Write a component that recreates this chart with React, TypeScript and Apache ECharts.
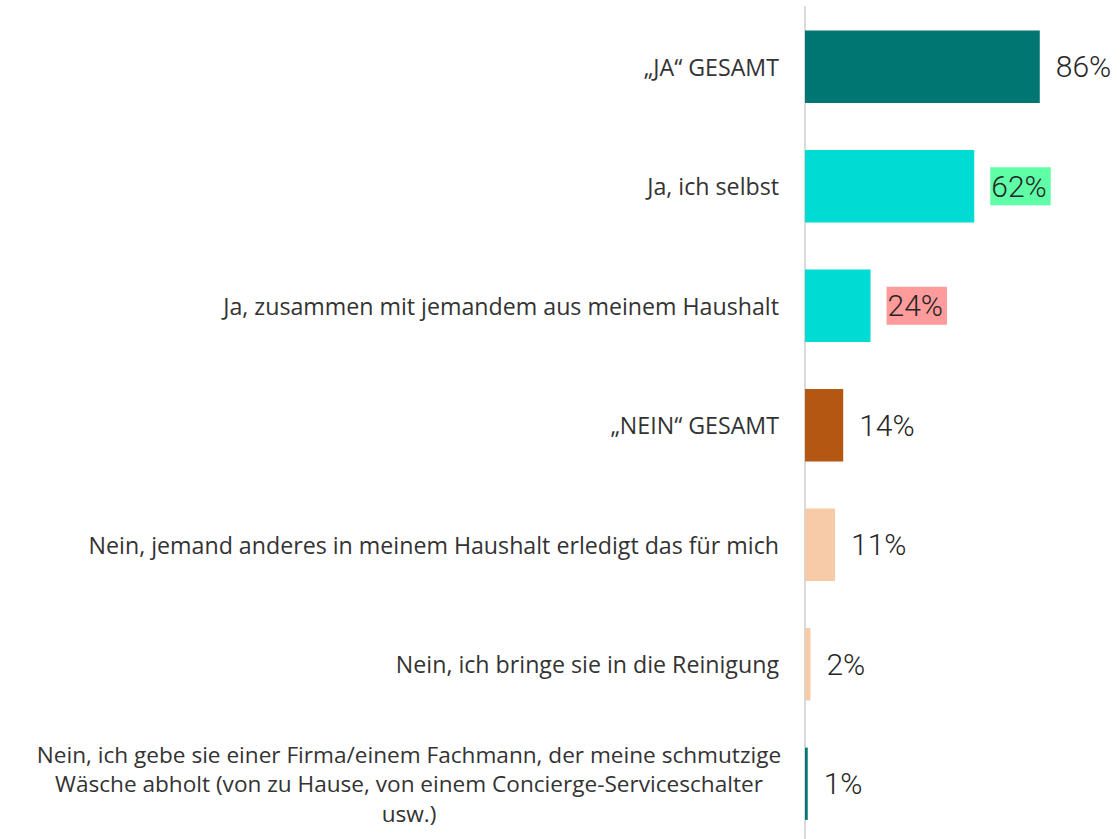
import React, { useEffect, useRef } from "react";
import * as echarts from "echarts";

const categories = [
  "„JA“ GESAMT",
  "Ja, ich selbst",
  "Ja, zusammen mit jemandem aus meinem Haushalt",
  "„NEIN“ GESAMT",
  "Nein, jemand anderes in meinem Haushalt erledigt das für mich",
  "Nein, ich bringe sie in die Reinigung",
  "Nein, ich gebe sie einer Firma/einem Fachmann, der meine schmutzige\nWäsche abholt (von zu Hause, von einem Concierge-Serviceschalter\nusw.)",
];
const values = [86, 62, 24, 14, 11, 2, 1];
const barColors = ["#007672", "#00DCD4", "#00DCD4", "#B35712", "#F7CBA7", "#F7CBA7", "#007672"];
const labelBackgrounds: (string | null)[] = [null, "#5EFFA6", "#FF9B9B", null, null, null, null];

export default function App() {
  const ref = useRef<HTMLDivElement>(null);
  useEffect(() => {
    if (!ref.current) return;
    const chart = echarts.init(ref.current, null, { renderer: "svg" });
    const catFont = 23.2;
    chart.setOption({
      animation: false,
      grid: { left: 805, top: 7, width: 273, height: 836.5, containLabel: false },
      xAxis: { type: "value", min: 0, max: 100, show: false },
      yAxis: {
        type: "category",
        inverse: true,
        data: categories,
        axisLine: { show: true, lineStyle: { color: "#D9D9D9", width: 2 } },
        axisTick: { show: false },
        axisLabel: {
          margin: 26,
          color: "#333333",
          fontSize: catFont,
          fontFamily: "Open Sans",
          lineHeight: 29.5,
          align: "right",
          formatter: (v: string) =>
            v.includes("\n")
              ? v
                  .split("\n")
                  .map((l) => `{c|${l}}`)
                  .join("\n")
              : v,
          rich: {
            c: {
              width: 740,
              align: "center",
              fontSize: 22.6,
              fontFamily: "Open Sans",
              color: "#333333",
              lineHeight: 29.5,
            },
          },
        },
      },
      series: [
        {
          type: "bar",
          barCategoryGap: "39.5%",
          data: values.map((v, i) => ({
            value: v,
            itemStyle: { color: barColors[i] },
            label: labelBackgrounds[i]
              ? { backgroundColor: labelBackgrounds[i], padding: [5, 4, 3, 1] }
              : {},
          })),
          label: {
            show: true,
            position: "right",
            distance: 16,
            formatter: "{c}%",
            color: "#262626",
            fontSize: 30,
            fontWeight: 300,
            fontFamily: "Roboto",
          },
        },
      ],
    });
    return () => chart.dispose();
  }, []);
  return (
    <div
      ref={ref}
      style={{ position: "fixed", left: 0, top: 0, width: 1120, height: 850, background: "#fff" }}
    />
  );
}
